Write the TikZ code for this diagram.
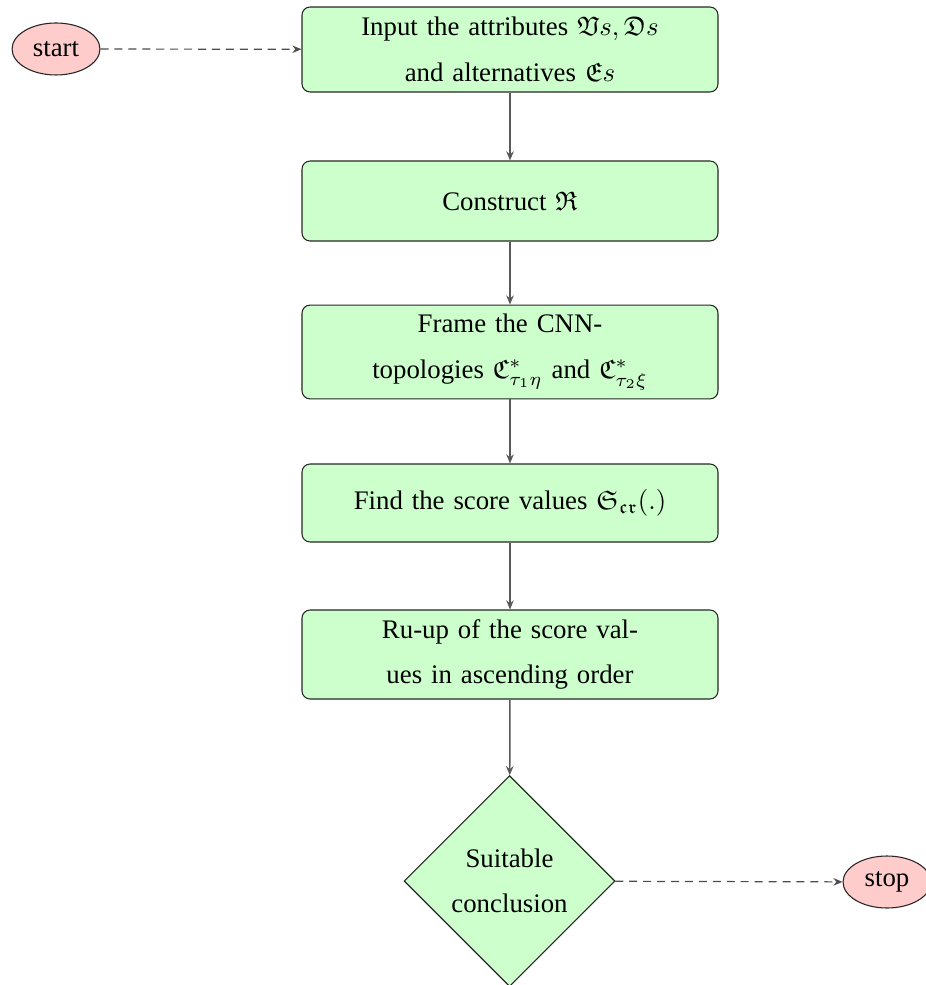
\documentclass[tikz,border=0pt]{standalone}
\usepackage{amssymb}
\usepackage{fontspec}
\setmainfont{Liberation Serif}
\usetikzlibrary{shapes.geometric,arrows.meta}
\begin{document}
\begin{tikzpicture}[x=0.3731pt,y=-0.3731pt,
  every node/.style={font=\fontsize{10}{17}\selectfont},
  procbox/.style={draw=black!85, fill=green!20, rounded corners=3pt, align=center,
    minimum width=155.2pt, text width=140pt, inner sep=2pt, line width=0.4pt},
  termnode/.style={draw=black!85, fill=red!20, ellipse, minimum width=32.8pt,
    minimum height=19.4pt, inner sep=1pt},
  decnode/.style={draw=black!85, fill=green!20, diamond, aspect=1, inner sep=0pt,
    minimum width=78.7pt, minimum height=78.7pt, align=center},
  flow/.style={draw=black!65, line width=0.55pt, -{Stealth[length=3.4pt,width=2.8pt]}},
  dflow/.style={draw=black!70, line width=0.45pt, dash pattern=on 3pt off 2.2pt,
    -{Stealth[length=3.4pt,width=2.8pt]}}]
\useasboundingbox (0,0) rectangle (925,985);
\node[termnode] (start) at (56,49) {start};
\node[procbox, minimum height=31.7pt] (b1) at (510,49.5)
  {Input the attributes $\mathfrak{V}s,\mathfrak{D}s$\\ and alternatives $\mathfrak{E}s$};
\node[procbox, minimum height=29.85pt] (b2) at (510,201) {Construct $\mathfrak{R}$};
\node[procbox, minimum height=35pt] (b3) at (510,352)
  {Frame the CNN-\\ topologies $\mathfrak{C}^*_{\tau_1\eta}$ and $\mathfrak{C}^*_{\tau_2\xi}$};
\node[procbox, minimum height=29.1pt] (b4) at (510,503)
  {Find the score values $\mathfrak{S}_{\mathfrak{cr}}(.)$};
\node[procbox, minimum height=33.2pt] (b5) at (510,654.5)
  {Ru-up of the score val-\\ ues in ascending order};
\node[decnode] (dec) at (509.5,881) {Suitable\\ conclusion};
\node[termnode] (stop) at (887,882) {stop};
\draw[dflow] (start) -- (b1);
\draw[flow] (b1) -- (b2);
\draw[flow] (b2) -- (b3);
\draw[flow] (b3) -- (b4);
\draw[flow] (b4) -- (b5);
\draw[flow] (b5) -- (dec);
\draw[dflow] (dec) -- (stop);
\end{tikzpicture}
\end{document}
